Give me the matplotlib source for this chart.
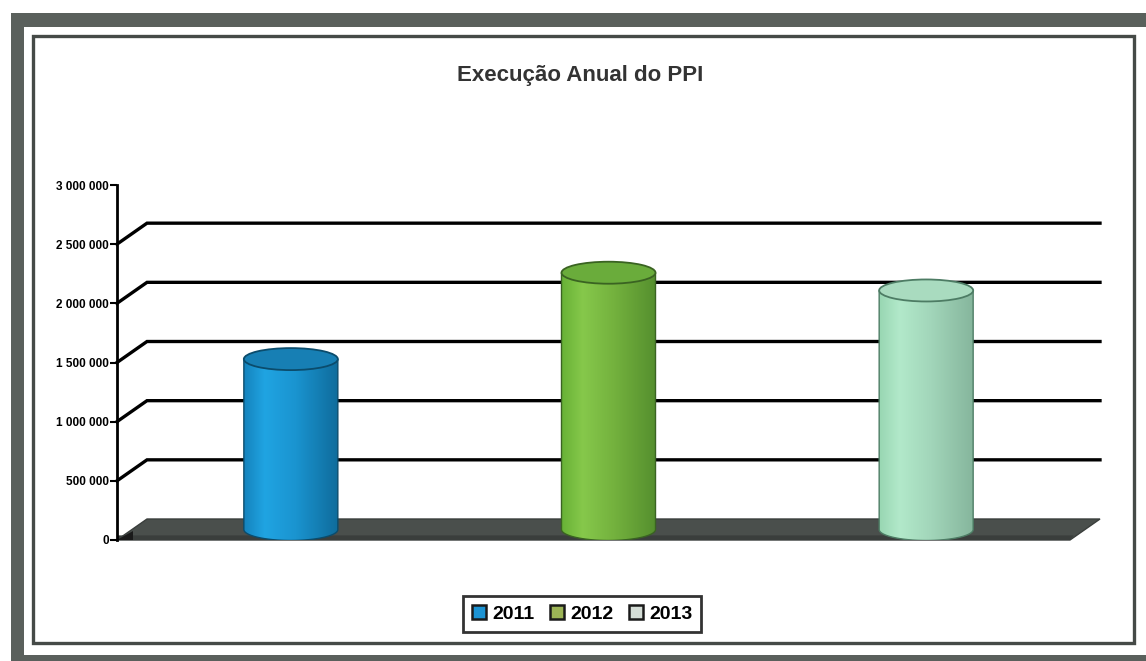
import numpy as np
import matplotlib
matplotlib.use("Agg")
import matplotlib.pyplot as plt
from matplotlib.patches import Rectangle, Polygon, Ellipse, PathPatch, Patch
from matplotlib.path import Path
from matplotlib.colors import LinearSegmentedColormap
from matplotlib.ticker import FuncFormatter

plt.rcParams['font.family'] = ['Liberation Sans', 'DejaVu Sans']

years = ['2011', '2012', '2013']
values = [1440000, 2170000, 2020000]
yticks = [0, 500000, 1000000, 1500000, 2000000, 2500000, 3000000]

# shading per cylinder: gradient stops, top colour, outline colour, legend colour
body_stops = [
    ['#1583bd', '#20a4e2', '#1a94d0', '#0f6c9c'],
    ['#68b236', '#86c84b', '#74b23e', '#558f2e'],
    ['#98d6b2', '#b2e9ca', '#a2d6ba', '#86b69d'],
]
top_colors = ['#177fb4', '#6aac3b', '#a9dbbf']
edge_colors = ['#0b4c6c', '#3a6322', '#4d7c64']
legend_colors = ['#1c93d3', '#9cb456', '#d4ddd6']

W, H = 1146, 661
fig = plt.figure(figsize=(W / 100, H / 100), dpi=100)


def fp(x, y):
    return x / W, 1 - y / H


# scanned page frame
frame_gray = '#5a605c'
for x0, y0, x1, y1 in [(11, 13, 1146, 27), (11, 13, 24, 661), (11, 655, 1146, 661)]:
    fig.add_artist(Rectangle(fp(x0, y1), (x1 - x0) / W, (y1 - y0) / H,
                             transform=fig.transFigure, color=frame_gray, lw=0))
fig.add_artist(Rectangle(fp(33, 643), (1134 - 33) / W, (643 - 36) / H,
                         transform=fig.transFigure, fill=False,
                         edgecolor='#454a47', lw=2.4))

fig.text(580 / W, 1 - 75 / H, 'Execução Anual do PPI', ha='center', va='center',
         fontsize=16, fontweight='bold', color='#333333')

ax = fig.add_axes([117 / W, 121 / H, 953 / W, 355 / H])
XMAX, YMAX = 3.0, 3000000
# depth of the 3-D box, in data units
DX = 30 / 953 * XMAX
DY = 21 / 355 * YMAX

# back-wall gridlines with their diagonals to the front axis
for v in yticks[1:-1]:
    ax.plot([0, DX, XMAX + DX], [v, v + DY, v + DY], color='black', lw=2.4,
            clip_on=False, zorder=1, solid_joinstyle='miter')

# floor slab
ax.add_patch(Polygon([(0, 0), (XMAX, 0), (XMAX + DX, DY), (DX, DY)], closed=True,
                     facecolor='#4a4f4c', edgecolor='#3a3e3c', lw=1,
                     clip_on=False, zorder=2))
ax.add_patch(Polygon([(0.0, 0), (XMAX, 0), (XMAX + 0.012, DY * 0.22), (0.0, DY * 0.22)],
                     closed=True, facecolor='#3a3e3c', lw=0, clip_on=False, zorder=2))
ax.add_patch(Polygon([(0, 0), (0.05, 0), (0.05, DY * 0.45)], closed=True,
                     facecolor='#1a1a1a', lw=0, clip_on=False, zorder=2))

# cylinders
a = 47 / 953 * XMAX
b = 11 / 355 * YMAX
theta = np.linspace(np.pi, 2 * np.pi, 60)
for i, v in enumerate(values):
    cx = i + 0.5 + DX / 2
    yb = DY / 2
    yt = v + DY / 2
    xs = list(cx + a * np.cos(theta)) + [cx + a, cx - a]
    ys = list(yb + b * np.sin(theta)) + [yt, yt]
    body = Path(np.column_stack([xs + [xs[0]], ys + [ys[0]]]), closed=True)

    cmap = LinearSegmentedColormap.from_list('c%d' % i,
                                             list(zip([0, 0.22, 0.55, 1], body_stops[i])))
    grad = np.linspace(0, 1, 256).reshape(1, -1)
    im = ax.imshow(grad, cmap=cmap, aspect='auto', extent=[cx - a, cx + a, yb - b, yt],
                   origin='lower', zorder=3, interpolation='bilinear')
    clip = PathPatch(body, transform=ax.transData, facecolor='none', lw=0)
    ax.add_patch(clip)
    im.set_clip_path(clip)
    ax.add_patch(PathPatch(body, facecolor='none', edgecolor=edge_colors[i],
                           lw=1.0, zorder=4))
    ax.add_patch(Ellipse((cx, yt), 2 * a, 2 * b, facecolor=top_colors[i],
                         edgecolor=edge_colors[i], lw=1.3, zorder=5))

ax.set_xlim(0, XMAX)
ax.set_ylim(0, YMAX)
ax.set_xticks([])
ax.set_yticks(yticks)
ax.yaxis.set_major_formatter(FuncFormatter(lambda v, p: f'{int(v):,}'.replace(',', ' ')))
ax.tick_params(axis='y', direction='out', length=5, width=1.5, pad=1,
               labelsize=8.5, colors='black')
for lbl in ax.get_yticklabels():
    lbl.set_fontweight('bold')
for s in ['top', 'right', 'bottom']:
    ax.spines[s].set_visible(False)
ax.spines['left'].set_linewidth(2)
ax.patch.set_visible(False)

handles = [Patch(facecolor=c, edgecolor='#1a1a1a', lw=1.8) for c in legend_colors]
leg = fig.legend(handles, years, loc='center', bbox_to_anchor=(582 / W, 1 - 614 / H),
                 ncol=3, frameon=True, fancybox=False, edgecolor='black',
                 prop={'weight': 'bold', 'size': 14}, handlelength=0.75,
                 handleheight=0.75, handletextpad=0.3, columnspacing=0.8,
                 borderpad=0.45)
leg.get_frame().set_linewidth(2)

fig.savefig('out.png', dpi=100, facecolor='white')
